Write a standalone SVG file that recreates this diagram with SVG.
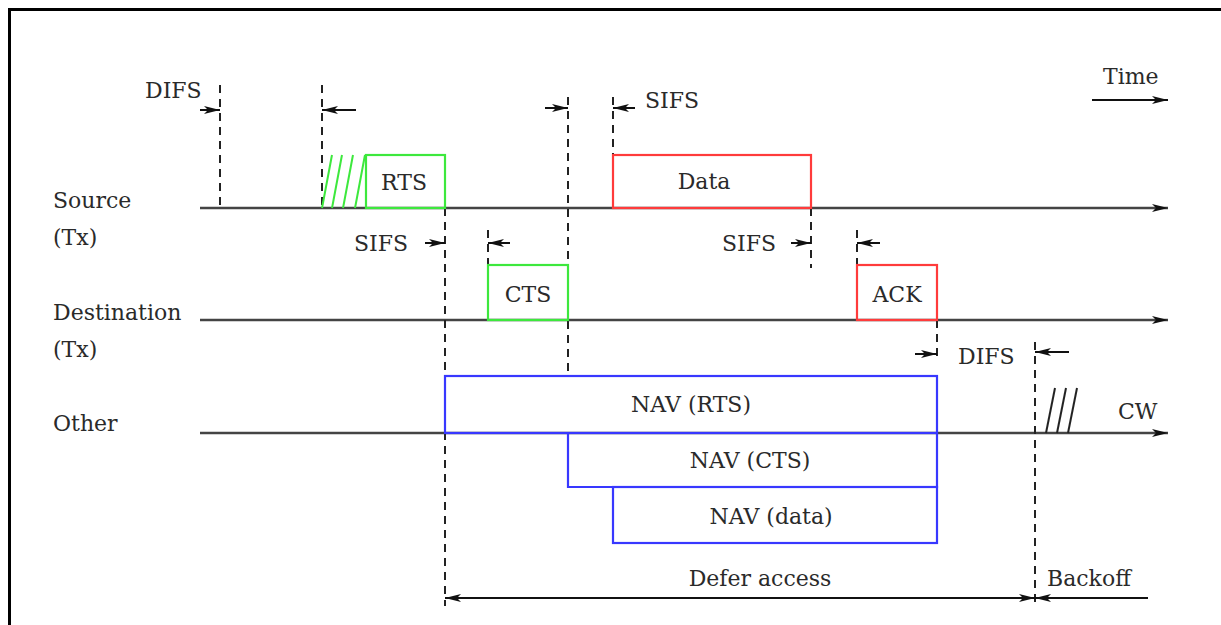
<svg xmlns="http://www.w3.org/2000/svg" width="1221" height="625" viewBox="0 0 1221 625">
<defs>
<marker id="ah" viewBox="0 0 16 10" refX="16" refY="5" markerWidth="16" markerHeight="10" markerUnits="userSpaceOnUse" orient="auto-start-reverse">
<path d="M0,1 L16,5 L0,9 L4,5 Z" fill="#111"/>
</marker>
<style>
text{font-family:"DejaVu Serif","Liberation Serif",serif;font-size:22px;fill:#2a2a2a}
.axis{stroke:#444;stroke-width:2.5;fill:none}
.dash{stroke:#222;stroke-width:2;stroke-dasharray:8 6;fill:none}
.ar{stroke:#111;stroke-width:2;fill:none;marker-end:url(#ah)}
.g{stroke:#3de83d;stroke-width:2.2;fill:none}
.r{stroke:#ff3b3b;stroke-width:2.2;fill:none}
.b{stroke:#3838ff;stroke-width:2.2;fill:none}
.hg{stroke:#3de83d;stroke-width:2}
.hk{stroke:#222;stroke-width:2}
</style>
</defs>
<rect width="1221" height="625" fill="#fff"/>
<path d="M9.5,625 V9.5 H1221" fill="none" stroke="#000" stroke-width="3"/>

<g id="labels">
<text x="53" y="208">Source</text>
<text x="53" y="245">(Tx)</text>
<text x="53" y="320">Destination</text>
<text x="53" y="357">(Tx)</text>
<text x="53" y="431">Other</text>
<text x="1103" y="84">Time</text>
</g>

<g id="connectors">
<line class="axis" x1="200" y1="208" x2="1168" y2="208" marker-end="url(#ah)"/>
<line class="axis" x1="200" y1="320" x2="1168" y2="320" marker-end="url(#ah)"/>
<line class="axis" x1="200" y1="433" x2="1168" y2="433" marker-end="url(#ah)"/>
<line class="ar" x1="1092" y1="100" x2="1168" y2="100" stroke-width="2.5"/>
<line class="dash" x1="220" y1="85" x2="220" y2="208"/>
<line class="dash" x1="322" y1="85" x2="322" y2="208"/>
<line class="dash" x1="445" y1="208" x2="445" y2="606"/>
<line class="dash" x1="488" y1="230" x2="488" y2="265"/>
<line class="dash" x1="568" y1="97" x2="568" y2="376"/>
<line class="dash" x1="613" y1="97" x2="613" y2="155"/>
<line class="dash" x1="811" y1="208" x2="811" y2="268"/>
<line class="dash" x1="857" y1="230" x2="857" y2="265"/>
<line class="dash" x1="937" y1="320" x2="937" y2="362"/>
<line class="dash" x1="1035" y1="342" x2="1035" y2="606"/>
<line class="ar" x1="200" y1="110" x2="220" y2="110"/>
<line class="ar" x1="356" y1="110" x2="322" y2="110"/>
<line class="ar" x1="425" y1="243" x2="445" y2="243"/>
<line class="ar" x1="510" y1="243" x2="488" y2="243"/>
<line class="ar" x1="545" y1="108" x2="568" y2="108"/>
<line class="ar" x1="635" y1="108" x2="613" y2="108"/>
<line class="ar" x1="791" y1="243" x2="811" y2="243"/>
<line class="ar" x1="880" y1="243" x2="857" y2="243"/>
<line class="ar" x1="915" y1="354" x2="937" y2="354"/>
<line class="ar" x1="1069" y1="352" x2="1035" y2="352"/>
<line x1="445" y1="598" x2="1035" y2="598" stroke="#111" stroke-width="2" marker-start="url(#ah)" marker-end="url(#ah)"/>
<line class="ar" x1="1148" y1="598" x2="1035" y2="598"/>
</g>

<g id="difs1"><text x="145" y="98">DIFS</text></g>
<g id="sifs-top"><text x="645" y="108">SIFS</text></g>
<g id="sifs-rts"><text x="354" y="251">SIFS</text></g>
<g id="sifs-data"><text x="722" y="251">SIFS</text></g>
<g id="difs2"><text x="958" y="364">DIFS</text></g>

<g id="rts-hatch">
<line class="hg" x1="322" y1="208" x2="332" y2="155"/>
<line class="hg" x1="332" y1="208" x2="342" y2="155"/>
<line class="hg" x1="343" y1="208" x2="353" y2="155"/>
<line class="hg" x1="355" y1="208" x2="365" y2="155"/>
</g>
<g id="rts"><rect class="g" x="366" y="155" width="79" height="53"/><text x="404" y="190" text-anchor="middle">RTS</text></g>
<g id="cts"><rect class="g" x="488" y="265" width="80" height="55"/><text x="528" y="302" text-anchor="middle">CTS</text></g>
<g id="data"><rect class="r" x="613" y="155" width="198" height="53"/><text x="704" y="189" text-anchor="middle">Data</text></g>
<g id="ack"><rect class="r" x="857" y="265" width="80" height="55"/><text x="897" y="302" text-anchor="middle">ACK</text></g>
<g id="nav-rts"><rect class="b" x="445" y="376" width="492" height="57"/><text x="691" y="412" text-anchor="middle">NAV (RTS)</text></g>
<g id="nav-cts"><path class="b" d="M568,433 V487 H937 V433"/><text x="750" y="468" text-anchor="middle">NAV (CTS)</text></g>
<g id="nav-data"><rect class="b" x="613" y="487" width="324" height="56"/><text x="771" y="524" text-anchor="middle">NAV (data)</text></g>
<g id="cw">
<line class="hk" x1="1046" y1="433" x2="1055" y2="388"/>
<line class="hk" x1="1057" y1="433" x2="1066" y2="388"/>
<line class="hk" x1="1068" y1="433" x2="1077" y2="388"/>
<text x="1118" y="419">CW</text>
</g>
<g id="defer"><text x="760" y="586" text-anchor="middle">Defer access</text></g>
<g id="backoff"><text x="1047" y="586">Backoff</text></g>
</svg>
